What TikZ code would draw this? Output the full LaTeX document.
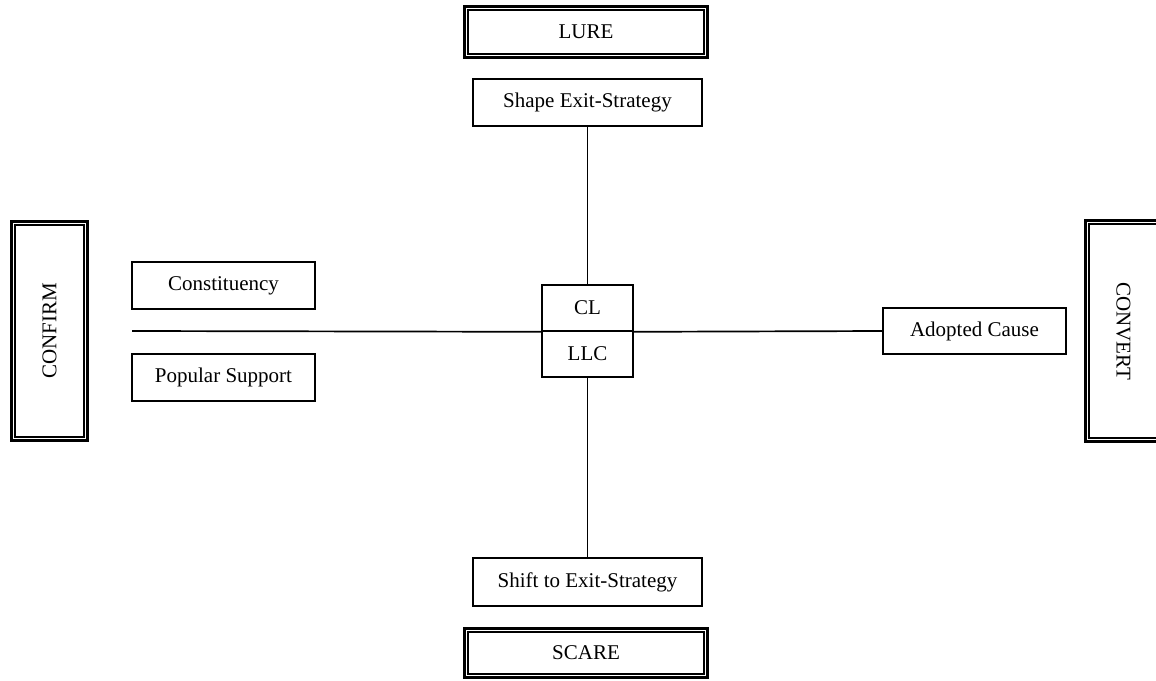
\documentclass[tikz,border=0pt]{standalone}
\usepackage{fontspec}
\setmainfont{Liberation Serif}
\begin{document}
\begin{tikzpicture}[x=1pt,y=-1pt,
  every node/.style={font=\fontsize{21}{25}\selectfont, inner sep=0pt, align=center},
  box/.style={draw, line width=1.6pt},
  dblout/.style={draw, line width=2.8pt},
  dblin/.style={draw, line width=2.2pt},
  conn/.style={line width=1.7pt}]
\useasboundingbox (0,0) rectangle (1156,680);
\clip (0,0) rectangle (1156,680);
% frame boxes (outer line + inner line)
\node[dblout, minimum width=243.2pt, minimum height=51.2pt] (lure) at (586,32) {LURE};
\node[dblin, minimum width=235.4pt, minimum height=43.4pt] (lurein) at (lure.center) {};
\node[dblout, minimum width=243.2pt, minimum height=49.2pt] (scare) at (586,653) {SCARE};
\node[dblin, minimum width=235.4pt, minimum height=41.4pt] (scarein) at (scare.center) {};
\node[dblout, rotate=90, minimum width=219.2pt, minimum height=76.2pt] (confirm) at (49.5,331) {CONFIRM};
\node[dblin, rotate=90, minimum width=211.4pt, minimum height=68.4pt] (confirmin) at (confirm.center) {};
\node[dblout, rotate=-90, minimum width=221.2pt, minimum height=76.2pt] (convert) at (1123.5,331) {CONVERT};
\node[dblin, rotate=-90, minimum width=213.4pt, minimum height=68.4pt] (convertin) at (convert.center) {};
% simple boxes
\node[box, minimum width=229pt, minimum height=47pt] (shape) at (587.5,102.5) {Shape Exit-Strategy};
\node[box, minimum width=229pt, minimum height=48pt] (shift) at (587.5,582) {Shift to Exit-Strategy};
\node[box, minimum width=183pt, minimum height=47pt] (const) at (223.5,285.5) {Constituency};
\node[box, minimum width=183pt, minimum height=47pt] (pop) at (223.5,377.5) {Popular Support};
\node[box, minimum width=183pt, minimum height=46pt] (adopt) at (974.5,331) {Adopted Cause};
\node[box, minimum width=91pt, minimum height=46pt] (cl) at (587.5,308) {CL};
\node[box, minimum width=91pt, minimum height=46pt] (llc) at (587.5,354) {LLC};
% connectors
\coordinate (lstart) at (132,331);
\draw[conn] (lstart) -- (cl.south west);
\draw[conn] (cl.south east) -- (adopt.west);
\draw[conn] (shape.south) -- (cl.north);
\draw[conn] (llc.south) -- (shift.north);
\end{tikzpicture}
\end{document}
